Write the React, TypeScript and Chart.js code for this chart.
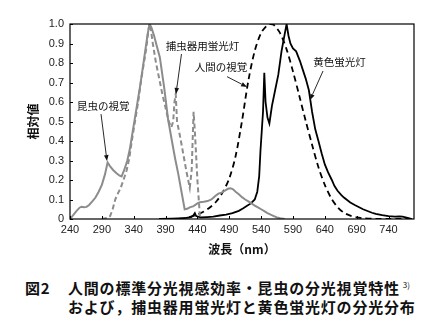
import React, { useEffect, useRef } from 'react';
import { Chart, registerables } from 'chart.js';

Chart.register(...registerables);

// ---- axis ticks ----
const xTickValues = [240, 290, 340, 390, 440, 490, 540, 590, 640, 690, 740];
const yTickValues = [0, 0.1, 0.2, 0.3, 0.4, 0.5, 0.6, 0.7, 0.8, 0.9, 1.0];

// ---- 昆虫の視覚 (insect spectral sensitivity, grey solid) ----
const insectNm = [240, 245, 250, 255, 258, 262, 266, 270, 275, 280, 285, 290, 295, 299, 303, 308, 313, 318, 321, 325, 330, 334, 338, 342, 346, 350, 354, 358, 362, 365, 368, 372, 376, 381, 388, 394, 400, 405, 410, 415, 420, 424, 428, 434, 440, 444, 450, 456, 462, 468, 473, 478, 483, 488, 492, 496, 500, 505, 510, 515, 520, 525, 530, 535, 540, 545, 550, 555, 560, 565, 570, 577];
const insectVal = [0, 0.02, 0.04, 0.058, 0.063, 0.06, 0.062, 0.072, 0.09, 0.11, 0.14, 0.175, 0.23, 0.29, 0.27, 0.25, 0.235, 0.222, 0.218, 0.25, 0.3, 0.36, 0.44, 0.52, 0.6, 0.68, 0.77, 0.86, 0.95, 1.0, 0.98, 0.94, 0.89, 0.83, 0.67, 0.51, 0.4, 0.31, 0.23, 0.14, 0.05, 0.052, 0.06, 0.066, 0.08, 0.086, 0.088, 0.092, 0.1, 0.118, 0.13, 0.135, 0.145, 0.155, 0.158, 0.152, 0.14, 0.127, 0.112, 0.1, 0.09, 0.08, 0.068, 0.06, 0.05, 0.04, 0.03, 0.022, 0.015, 0.008, 0.004, 0];

// ---- 捕虫器用蛍光灯 (insect-trap fluorescent lamp, grey dashed) ----
const trapNm = [290, 298, 303, 307, 311, 315, 319, 324, 329, 333, 337, 342, 347, 352, 356, 360, 363, 365, 367, 370, 375, 380, 385, 390, 395, 399, 402, 404, 406, 408, 413, 418, 423, 428, 431, 434, 436, 440, 444, 446];
const trapVal = [0, 0.005, 0.015, 0.05, 0.1, 0.13, 0.155, 0.2, 0.25, 0.31, 0.4, 0.5, 0.6, 0.72, 0.8, 0.88, 0.97, 1.0, 0.97, 0.9, 0.8, 0.72, 0.64, 0.57, 0.5, 0.47, 0.5, 0.6, 0.64, 0.5, 0.42, 0.33, 0.24, 0.16, 0.25, 0.55, 0.45, 0.2, 0.01, 0];

// ---- 人間の視覚 (human photopic luminous efficiency, black dashed) ----
const humanNm = [380, 400, 420, 430, 440, 450, 460, 470, 480, 490, 500, 510, 520, 530, 540, 550, 555, 560, 570, 580, 590, 600, 610, 620, 630, 640, 650, 660, 670, 680, 690, 700, 720, 740, 760, 780];
const humanVal = [0, 0.0004, 0.004, 0.0116, 0.023, 0.038, 0.06, 0.091, 0.139, 0.208, 0.323, 0.503, 0.71, 0.862, 0.954, 0.995, 1.0, 0.995, 0.952, 0.87, 0.757, 0.631, 0.503, 0.381, 0.265, 0.175, 0.107, 0.061, 0.032, 0.017, 0.008, 0.004, 0.001, 0.0003, 0.0001, 0];

// ---- 黄色蛍光灯 (yellow fluorescent lamp, black solid) ----
const yellowNm = [380, 400, 420, 430, 434, 436, 438, 445, 455, 465, 475, 485, 495, 505, 512, 518, 524, 530, 534, 537, 539, 541, 543, 545, 547, 550, 553, 557, 562, 567, 572, 576, 580, 583, 586, 590, 595, 601, 605, 610, 615, 620, 625, 630, 635, 640, 645, 651, 655, 660, 666, 670, 680, 687, 700, 714, 720, 730, 740, 750, 757, 762, 770, 777];
const yellowVal = [0, 0.002, 0.005, 0.01, 0.02, 0.03, 0.015, 0.008, 0.01, 0.012, 0.018, 0.022, 0.03, 0.042, 0.055, 0.068, 0.08, 0.1, 0.14, 0.22, 0.35, 0.45, 0.55, 0.75, 0.6, 0.52, 0.49, 0.58, 0.66, 0.74, 0.86, 0.93, 1.0, 0.94, 0.9, 0.875, 0.86, 0.81, 0.77, 0.72, 0.66, 0.55, 0.46, 0.4, 0.337, 0.28, 0.24, 0.2, 0.17, 0.145, 0.123, 0.11, 0.085, 0.072, 0.05, 0.032, 0.026, 0.02, 0.015, 0.012, 0.013, 0.012, 0.006, 0];

// ---- annotations (in data coordinates) ----
const labelTexts = ['昆虫の視覚', '捕虫器用蛍光灯', '人間の視覚', '黄色蛍光灯'];
const labelNm = [292, 448, 477, 663];
const labelVal = [0.58, 0.887, 0.78, 0.805];
const arrowFromNm = [288.7, 415, 486.5, 637.2];
const arrowFromVal = [0.538, 0.846, 0.73, 0.759];
const arrowToNm = [298.1, 406.4, 518, 616.8];
const arrowToVal = [0.297, 0.641, 0.677, 0.61];

const pts = (xs: number[], ys: number[]) => xs.map((x, i) => ({ x, y: ys[i] }));

const GREY = '#8c8c8c';
const JP = '"Noto Sans CJK JP", "Noto Sans", sans-serif';

const framePlugin = {
  id: 'frameAndNotes',
  afterDatasetsDraw(chart: any) {
    const { ctx, chartArea: a, scales } = chart;
    const xs = scales.x;
    const ys = scales.y;
    ctx.save();
    // frame
    ctx.strokeStyle = '#000';
    ctx.lineWidth = 1.2;
    ctx.strokeRect(a.left, a.top, a.right - a.left, a.bottom - a.top);
    // inward ticks
    ctx.lineWidth = 1;
    ctx.beginPath();
    xTickValues.forEach((v) => {
      const px = Math.round(xs.getPixelForValue(v)) + 0.5;
      ctx.moveTo(px, a.bottom);
      ctx.lineTo(px, a.bottom - 3);
    });
    yTickValues.forEach((v) => {
      const py = Math.round(ys.getPixelForValue(v)) + 0.5;
      ctx.moveTo(a.left, py);
      ctx.lineTo(a.left + 3, py);
    });
    ctx.stroke();
    // labels
    ctx.fillStyle = '#111';
    ctx.font = `10.5px ${JP}`;
    ctx.textAlign = 'center';
    ctx.textBaseline = 'middle';
    labelTexts.forEach((t, i) => {
      ctx.fillText(t, xs.getPixelForValue(labelNm[i]), ys.getPixelForValue(labelVal[i]));
    });
    // arrows
    ctx.strokeStyle = '#111';
    ctx.lineWidth = 0.9;
    arrowFromNm.forEach((_, i) => {
      const x1 = xs.getPixelForValue(arrowFromNm[i]);
      const y1 = ys.getPixelForValue(arrowFromVal[i]);
      const x2 = xs.getPixelForValue(arrowToNm[i]);
      const y2 = ys.getPixelForValue(arrowToVal[i]);
      const ang = Math.atan2(y2 - y1, x2 - x1);
      const hl = 6;
      const hw = 2.3;
      const bx = x2 - hl * Math.cos(ang);
      const by = y2 - hl * Math.sin(ang);
      ctx.beginPath();
      ctx.moveTo(x1, y1);
      ctx.lineTo(bx, by);
      ctx.stroke();
      ctx.beginPath();
      ctx.moveTo(x2, y2);
      ctx.lineTo(bx + hw * Math.sin(ang), by - hw * Math.cos(ang));
      ctx.lineTo(bx - hw * Math.sin(ang), by + hw * Math.cos(ang));
      ctx.closePath();
      ctx.fill();
    });
    ctx.restore();
  },
};

function SpectrumChart() {
  const ref = useRef<HTMLCanvasElement | null>(null);
  useEffect(() => {
    if (!ref.current) return;
    const chart = new Chart(ref.current, {
      type: 'line',
      data: {
        datasets: [
          {
            label: '昆虫の視覚',
            data: pts(insectNm, insectVal),
            borderColor: GREY,
            borderWidth: 2,
            pointRadius: 0,
            tension: 0,
          },
          {
            label: '捕虫器用蛍光灯',
            data: pts(trapNm, trapVal),
            borderColor: GREY,
            borderWidth: 2,
            borderDash: [5, 3],
            pointRadius: 0,
            tension: 0,
          },
          {
            label: '人間の視覚',
            data: pts(humanNm, humanVal),
            borderColor: '#000',
            borderWidth: 1.8,
            borderDash: [6, 4],
            pointRadius: 0,
            tension: 0.3,
          },
          {
            label: '黄色蛍光灯',
            data: pts(yellowNm, yellowVal),
            borderColor: '#000',
            borderWidth: 1.8,
            pointRadius: 0,
            tension: 0,
          },
        ],
      },
      options: {
        animation: false,
        responsive: false,
        events: [],
        layout: { padding: { top: 24, right: 32, left: 0, bottom: 0 } },
        plugins: { legend: { display: false }, tooltip: { enabled: false } },
        scales: {
          x: {
            type: 'linear',
            min: 240,
            max: 780,
            grid: { display: false, drawTicks: false },
            border: { display: false },
            afterBuildTicks: (s: any) => {
              s.ticks = xTickValues.map((v) => ({ value: v }));
            },
            afterFit: (s: any) => {
              s.height = 46;
            },
            ticks: {
              padding: 4,
              maxRotation: 0,
              autoSkip: false,
              color: '#222',
              font: { family: '"Liberation Sans", Arial, sans-serif', size: 11 },
            },
            title: {
              display: true,
              text: '波長（nm）',
              color: '#111',
              padding: { top: 0, bottom: 8 },
              font: { family: JP, size: 12, weight: 'bold' },
            },
          },
          y: {
            min: 0,
            max: 1,
            grid: { display: false, drawTicks: false },
            border: { display: false },
            afterBuildTicks: (s: any) => {
              s.ticks = yTickValues.map((v) => ({ value: v }));
            },
            afterFit: (s: any) => {
              s.width = 70;
            },
            ticks: {
              padding: 6,
              color: '#222',
              font: { family: '"Liberation Sans", Arial, sans-serif', size: 11 },
              callback: (v: any) => (Number(v) === 0 ? '0' : Number(v).toFixed(1)),
            },
            title: {
              display: true,
              text: '相対値',
              color: '#111',
              padding: { top: 26, bottom: 0 },
              font: { family: JP, size: 12, weight: 'bold' },
            },
          },
        },
      },
      plugins: [framePlugin],
    } as any);
    return () => chart.destroy();
  }, []);
  return <canvas ref={ref} width={446} height={265} style={{ display: 'block' }} />;
}

export default function App() {
  const cap: React.CSSProperties = {
    position: 'absolute',
    fontFamily: JP,
    fontWeight: 700,
    fontSize: 15,
    lineHeight: '19px',
    color: '#111',
    whiteSpace: 'nowrap',
    letterSpacing: 0.8,
  };
  return (
    <div style={{ position: 'absolute', left: 0, top: 0, width: 446, height: 328, background: '#fff', overflow: 'hidden' }}>
      <SpectrumChart />
      <div style={{ ...cap, left: 25, top: 278 }}>図2</div>
      <div style={{ ...cap, left: 68, top: 278 }}>
        人間の標準分光視感効率・昆虫の分光視覚特性
        <span style={{ fontSize: 8, fontWeight: 400, position: 'relative', top: -6, marginLeft: 3, letterSpacing: 0 }}>3)</span>
      </div>
      <div style={{ ...cap, left: 68, top: 297 }}>および，捕虫器用蛍光灯と黄色蛍光灯の分光分布</div>
    </div>
  );
}
